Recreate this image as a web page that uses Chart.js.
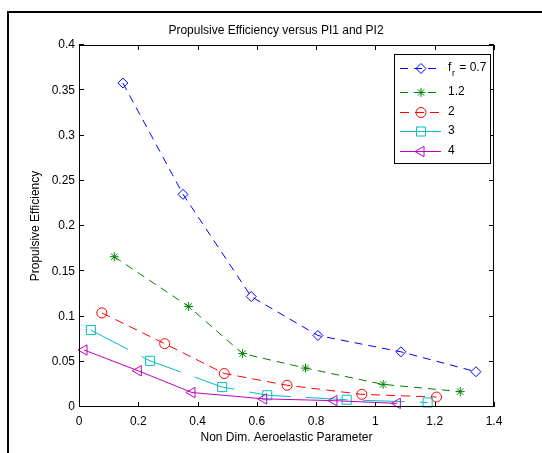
<!DOCTYPE html>
<html>
<head>
<meta charset="utf-8">
<script src="https://cdn.jsdelivr.net/npm/chart.js@4.4.1/dist/chart.umd.min.js"></script>
<style>
  html, body { margin: 0; padding: 0; background: #fff; }
  canvas { display: block; }
</style>
</head>
<body>
<canvas id="effChart" width="542" height="453"></canvas>
<script>
// values
const seriesNames = ['0.7', '1.2', '2', '3', '4'];
const fr07X = [0.148, 0.351, 0.581, 0.806, 1.086, 1.339];
const fr07Y = [0.358, 0.235, 0.122, 0.079, 0.061, 0.039];
const fr12X = [0.119, 0.370, 0.552, 0.764, 1.026, 1.286];
const fr12Y = [0.166, 0.111, 0.059, 0.043, 0.025, 0.017];
const fr2X = [0.077, 0.289, 0.490, 0.702, 0.954, 1.206];
const fr2Y = [0.104, 0.070, 0.037, 0.024, 0.014, 0.011];
const fr3X = [0.040, 0.240, 0.483, 0.635, 0.903, 1.176];
const fr3Y = [0.085, 0.051, 0.022, 0.013, 0.008, 0.005];
const fr4X = [0.017, 0.200, 0.381, 0.623, 0.860, 1.074];
const fr4Y = [0.063, 0.040, 0.016, 0.009, 0.007, 0.004];

const xTicks = [0, 0.2, 0.4, 0.6, 0.8, 1, 1.2, 1.4];
const xTickLabels = ['0', '0.2', '0.4', '0.6', '0.8', '1', '1.2', '1.4'];
const yTicks = [0, 0.05, 0.1, 0.15, 0.2, 0.25, 0.3, 0.35, 0.4];
const yTickLabels = ['0', '0.05', '0.1', '0.15', '0.2', '0.25', '0.3', '0.35', '0.4'];

const FONT = '"Liberation Sans", Arial, Helvetica, sans-serif';

function pts(xs, ys) {
    return xs.map((x, i) => ({ x: x, y: ys[i] }));
}

// matlab style line + marker per series
const styles = [
    { color: '#0000ff', dash: [8, 6], marker: 'rectRot', r: 5, rot: 0 },
    { color: '#008000', dash: [8, 6], marker: 'star', r: 4.5, rot: 0 },
    { color: '#ff0000', dash: [9, 6], marker: 'circle', r: 5, rot: 0 },
    { color: '#00bfbf', dash: [42, 15], marker: 'rect', r: 6.4, rot: 0 },
    { color: '#bf00bf', dash: [], marker: 'triangle', r: 6, rot: -90 }
];
const allData = [pts(fr07X, fr07Y), pts(fr12X, fr12Y), pts(fr2X, fr2Y), pts(fr3X, fr3Y), pts(fr4X, fr4Y)];

const datasets = allData.map((d, i) => ({
    label: seriesNames[i],
    data: d,
    borderColor: styles[i].color,
    borderWidth: 1,
    borderDash: styles[i].dash,
    pointStyle: styles[i].marker,
    pointRadius: styles[i].r,
    pointRotation: styles[i].rot,
    pointBorderColor: styles[i].color,
    pointBackgroundColor: 'rgba(0,0,0,0)',
    pointBorderWidth: 1,
    showLine: true,
    tension: 0,
    clip: false,
    order: 5 - i
}));

// frame, inner ticks, titles and legend the matlab way
const matlabLook = {
    id: 'matlabLook',
    beforeDraw(chart) {
        const ctx = chart.ctx;
        ctx.save();
        ctx.fillStyle = '#fff';
        ctx.fillRect(0, 0, chart.width, chart.height);
        ctx.restore();
    },
    afterDraw(chart) {
        const ctx = chart.ctx;
        const a = chart.chartArea;
        const xs = chart.scales.x, ys = chart.scales.y;
        ctx.save();

        // figure border (left + top only visible)
        ctx.strokeStyle = '#000';
        ctx.lineWidth = 2;
        ctx.beginPath();
        ctx.moveTo(8, chart.height);
        ctx.lineTo(8, 12);
        ctx.lineTo(chart.width, 12);
        ctx.stroke();

        // axes box
        ctx.lineWidth = 1;
        ctx.strokeRect(a.left + 0.5, a.top + 0.5, a.right - a.left - 1, a.bottom - a.top - 1);

        // inward ticks
        ctx.beginPath();
        xTicks.forEach(v => {
            const px = Math.round(xs.getPixelForValue(v)) + 0.5;
            ctx.moveTo(px, a.bottom); ctx.lineTo(px, a.bottom - 5);
            ctx.moveTo(px, a.top); ctx.lineTo(px, a.top + 5);
        });
        yTicks.forEach(v => {
            const py = Math.round(ys.getPixelForValue(v)) - 0.5;
            ctx.moveTo(a.left, py); ctx.lineTo(a.left + 5, py);
            ctx.moveTo(a.right, py); ctx.lineTo(a.right - 5, py);
        });
        ctx.stroke();

        // titles
        ctx.fillStyle = '#000';
        ctx.font = '12px ' + FONT;
        ctx.textAlign = 'center';
        ctx.textBaseline = 'middle';
        ctx.fillText('Propulsive Efficiency versus PI1 and PI2', 276, 31);
        ctx.fillText('Non Dim. Aeroelastic Parameter', (a.left + a.right) / 2, 438);
        ctx.save();
        ctx.translate(36, (a.top + a.bottom) / 2);
        ctx.rotate(-Math.PI / 2);
        ctx.fillText('Propulsive Efficiency', 0, 0);
        ctx.restore();

        // legend
        const lx = 394, ly = 54, lw = 96, lh = 109;
        ctx.fillStyle = '#fff';
        ctx.fillRect(lx, ly, lw, lh);
        ctx.strokeStyle = '#000';
        ctx.strokeRect(lx + 0.5, ly + 0.5, lw, lh);
        const rows = [68, 92, 112, 131, 151];
        chart.data.datasets.forEach((ds, i) => {
            const y = rows[i];
            ctx.strokeStyle = ds.borderColor;
            ctx.lineWidth = 1;
            ctx.setLineDash(ds.borderDash);
            ctx.beginPath();
            ctx.moveTo(400, y + 0.5);
            ctx.lineTo(441, y + 0.5);
            ctx.stroke();
            ctx.setLineDash([]);
            ctx.fillStyle = 'rgba(0,0,0,0)';
            Chart.helpers.drawPoint(ctx, {
                pointStyle: ds.pointStyle,
                radius: ds.pointRadius,
                rotation: ds.pointRotation,
                borderWidth: 1
            }, 421, y + 0.5);
            ctx.fillStyle = '#000';
            ctx.textAlign = 'left';
            ctx.font = '12px ' + FONT;
            if (i === 0) {
                ctx.fillText('f', 448, y);
                ctx.font = '9px ' + FONT;
                ctx.fillText('r', 452, y + 6);
                ctx.font = '12px ' + FONT;
                ctx.fillText(' = ' + ds.label, 456, y);
            } else {
                ctx.fillText(ds.label, 448, y);
            }
        });
        ctx.restore();
    }
};

const ctx = document.getElementById('effChart').getContext('2d');
new Chart(ctx, {
    type: 'scatter',
    data: { datasets: datasets },
    options: {
        responsive: false,
        animation: false,
        layout: { padding: { top: 45, right: 48, left: 0, bottom: 0 } },
        plugins: {
            legend: { display: false },
            title: { display: false },
            tooltip: { enabled: false }
        },
        scales: {
            x: {
                type: 'linear',
                min: 0,
                max: 1.4,
                afterBuildTicks: s => { s.ticks = xTicks.map(v => ({ value: v })); },
                afterFit: s => { s.height = 46; },
                grid: { display: false, drawTicks: false },
                border: { display: false },
                ticks: {
                    padding: 7,
                    color: '#000',
                    font: { family: FONT, size: 12 },
                    maxRotation: 0,
                    callback: (v, i) => xTickLabels[i]
                }
            },
            y: {
                type: 'linear',
                min: 0,
                max: 0.4,
                afterBuildTicks: s => { s.ticks = yTicks.map(v => ({ value: v })); },
                afterFit: s => { s.width = 79; },
                grid: { display: false, drawTicks: false },
                border: { display: false },
                ticks: {
                    padding: 4,
                    color: '#000',
                    font: { family: FONT, size: 12 },
                    callback: (v, i) => yTickLabels[i]
                }
            }
        }
    },
    plugins: [matlabLook]
});
</script>
</body>
</html>
